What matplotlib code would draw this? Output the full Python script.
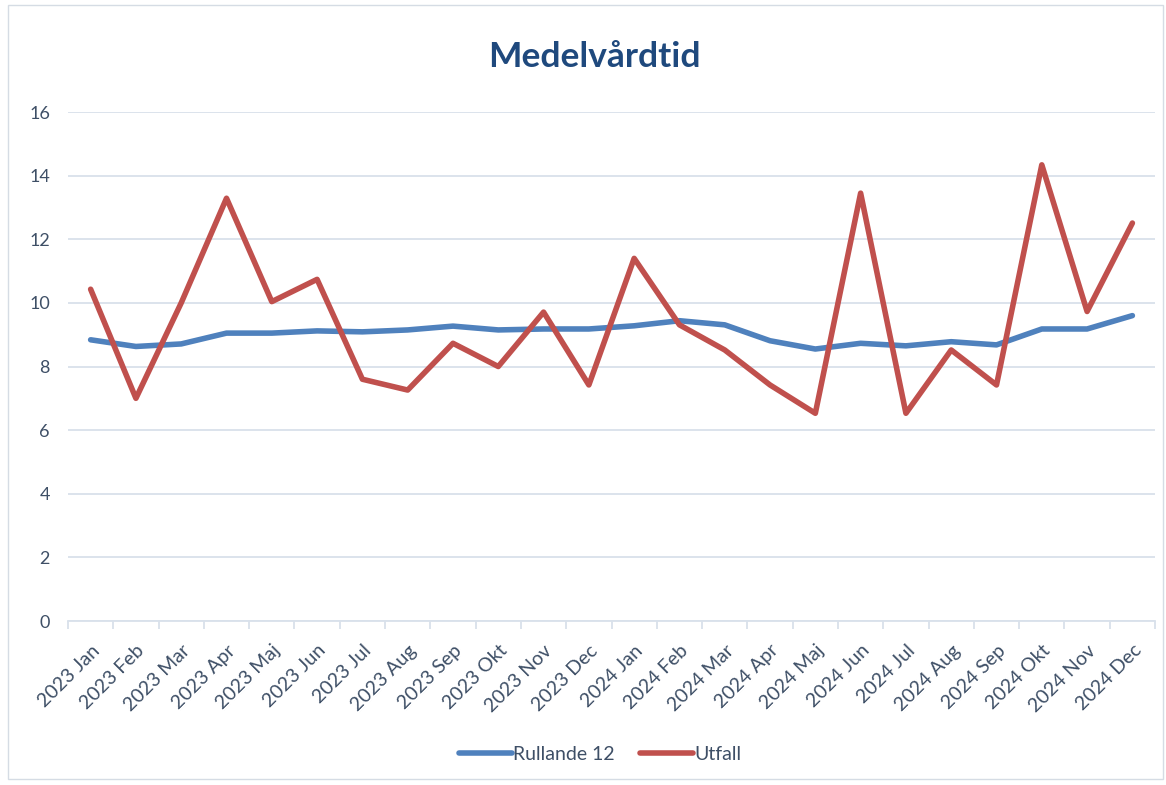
import matplotlib.pyplot as plt
import matplotlib.patches as patches
import matplotlib.transforms as mtransforms

# Data
months = ['2023 Jan', '2023 Feb', '2023 Mar', '2023 Apr', '2023 Maj', '2023 Jun',
          '2023 Jul', '2023 Aug', '2023 Sep', '2023 Okt', '2023 Nov', '2023 Dec',
          '2024 Jan', '2024 Feb', '2024 Mar', '2024 Apr', '2024 Maj', '2024 Jun',
          '2024 Jul', '2024 Aug', '2024 Sep', '2024 Okt', '2024 Nov', '2024 Dec']
rullande_12 = [8.84, 8.63, 8.71, 9.05, 9.05, 9.12, 9.09, 9.15, 9.27, 9.15, 9.18, 9.18,
               9.28, 9.44, 9.31, 8.81, 8.55, 8.73, 8.65, 8.78, 8.68, 9.18, 9.18, 9.60]
utfall = [10.43, 7.00, 10.0, 13.29, 10.04, 10.74, 7.60, 7.26, 8.73, 8.00, 9.71, 7.42,
          11.40, 9.31, 8.52, 7.42, 6.53, 13.45, 6.53, 8.52, 7.42, 14.34, 9.73, 12.51]
y_ticks = [0, 2, 4, 6, 8, 10, 12, 14, 16]

BLUE = '#4F81BD'
RED = '#C0504D'
TEXT = '#3E4F66'
GRID = '#D9E1EB'

plt.rcParams['font.family'] = ['Lato', 'DejaVu Sans']

fig = plt.figure(figsize=(11.66, 7.85), dpi=100)
# light frame round the chart
fig.patches.append(patches.Rectangle((0.007, 0.008), 0.99, 0.985, transform=fig.transFigure,
                                     fill=False, edgecolor='#D5DCE4', linewidth=1))

ax = fig.add_axes([0.0583, 0.2089, 0.9323, 0.6484])
x = list(range(len(months)))
ax.plot(x, rullande_12, color=BLUE, linewidth=4, solid_capstyle='round', label='Rullande 12')
ax.plot(x, utfall, color=RED, linewidth=4, solid_capstyle='round', label='Utfall')

ax.set_xlim(-0.5, len(months) - 0.5)
ax.set_ylim(0, 16)
ax.set_yticks(y_ticks)
ax.grid(axis='y', color=GRID, linewidth=1.3)
ax.set_axisbelow(True)
for s in ['top', 'right', 'left']:
    ax.spines[s].set_visible(False)
ax.spines['bottom'].set_color(GRID)
ax.spines['bottom'].set_linewidth(1.3)

# ticks on category boundaries, labels on category centres
ax.set_xticks([i - 0.5 for i in range(len(months) + 1)])
ax.set_xticklabels([])
ax.set_xticks(x, minor=True)
ax.set_xticklabels(months, minor=True, rotation=45, ha='right', va='top',
                   rotation_mode='anchor', fontsize=14, color=TEXT)
shift = mtransforms.ScaledTranslation(16 / 100, 0, fig.dpi_scale_trans)
for lab in ax.get_xticklabels(minor=True):
    lab.set_transform(lab.get_transform() + shift)
ax.tick_params(axis='x', which='major', length=6, color=GRID, width=1.3)
ax.tick_params(axis='x', which='minor', length=0, pad=15)
ax.tick_params(axis='y', length=0, labelsize=13, labelcolor=TEXT, pad=13)

fig.text(0.51, 0.927, 'Medelvårdtid', ha='center', va='center', fontsize=25.5,
         fontweight='bold', color='#1F497D')

fig.legend(loc='center', bbox_to_anchor=(0.515, 0.039), ncol=2, frameon=False,
           fontsize=14, labelcolor=TEXT, handlelength=2.7, handletextpad=0.1,
           columnspacing=1.3)

fig.savefig('out.png', dpi=100)
